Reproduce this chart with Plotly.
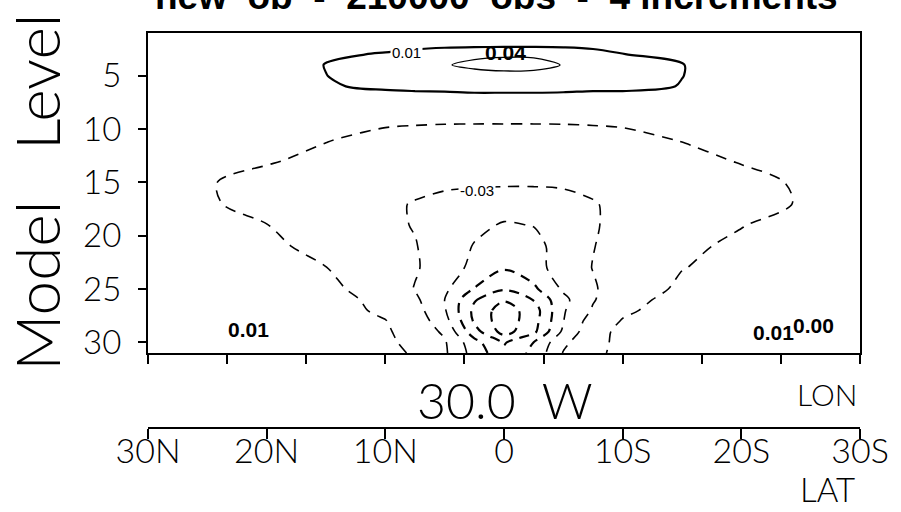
import numpy as np
import plotly.graph_objects as go

# Latitude columns (degrees, north positive) and model levels of the cross-section grid
lat = [30, 25, 20, 15, 10, 7.5, 5, 2.5, 0, -2.5, -5, -7.5, -10, -15, -20, -25, -30]
level = [1, 2, 3, 4, 5, 6, 7, 8, 9.5, 11, 13, 15, 17, 19, 21, 23, 25, 26, 27, 28, 29, 30, 31]

# Increment field, one row per model level (columns follow `lat`)
increment = [
    [0, 0, 0, 0, 0, 0.001, 0.001, 0.001, 0.001, 0.001, 0.001, 0.001, 0, 0, 0, 0, 0],
    [0, 0, 0, 0, 0.001, 0.001, 0.002, 0.002, 0.002, 0.002, 0.002, 0.002, 0.001, 0.001, 0, 0, 0],
    [0, 0, 0.002, 0.006, 0.012, 0.018, 0.023, 0.027, 0.028, 0.028, 0.025, 0.018, 0.0105, 0.005, 0.002, 0, 0],
    [0, 0.001, 0.004, 0.0105, 0.02, 0.025, 0.029, 0.033, 0.035, 0.034, 0.0295, 0.025, 0.02, 0.0105, 0.004, 0.001, 0],
    [0, 0.001, 0.004, 0.0098, 0.017, 0.02, 0.022, 0.025, 0.026, 0.026, 0.024, 0.021, 0.018, 0.0102, 0.004, 0.001, 0],
    [0, 0, 0.002, 0.0085, 0.013, 0.014, 0.015, 0.016, 0.016, 0.016, 0.015, 0.014, 0.014, 0.0095, 0.002, 0, 0],
    [0, 0, 0, 0.002, 0.004, 0.005, 0.005, 0.006, 0.006, 0.006, 0.006, 0.005, 0.005, 0.003, 0, 0, 0],
    [0, 0, -0.001, -0.002, -0.003, -0.0035, -0.004, -0.004, -0.004, -0.004, -0.004, -0.0035, -0.003, -0.003, -0.002, -0.001, 0],
    [0, -0.001, -0.003, -0.006, -0.009, -0.0095, -0.0098, -0.0099, -0.0099, -0.0099, -0.0098, -0.0095, -0.009, -0.0065, -0.004, -0.002, 0],
    [-0.001, -0.003, -0.006, -0.0095, -0.013, -0.014, -0.015, -0.016, -0.016, -0.016, -0.015, -0.014, -0.013, -0.0095, -0.006, -0.003, -0.001],
    [-0.002, -0.006, -0.009, -0.013, -0.017, -0.019, -0.021, -0.022, -0.023, -0.023, -0.022, -0.021, -0.018, -0.014, -0.0092, -0.006, -0.002],
    [-0.004, -0.0092, -0.014, -0.019, -0.023, -0.025, -0.026, -0.0265, -0.027, -0.027, -0.0265, -0.026, -0.023, -0.019, -0.014, -0.0085, -0.005],
    [-0.003, -0.009, -0.013, -0.02, -0.027, -0.031, -0.036, -0.04, -0.042, -0.042, -0.038, -0.031, -0.026, -0.02, -0.013, -0.0095, -0.003],
    [-0.001, -0.005, -0.0098, -0.017, -0.026, -0.031, -0.038, -0.046, -0.0515, -0.0495, -0.042, -0.0315, -0.025, -0.017, -0.0105, -0.005, -0.001],
    [0, -0.003, -0.0075, -0.0135, -0.024, -0.029, -0.04, -0.051, -0.06, -0.055, -0.043, -0.0305, -0.024, -0.0125, -0.0075, -0.003, 0],
    [0.001, -0.002, -0.005, -0.0098, -0.02, -0.028, -0.04, -0.055, -0.068, -0.058, -0.04, -0.0295, -0.022, -0.0105, -0.005, -0.002, 0.001],
    [0.002, -0.001, -0.004, -0.008, -0.014, -0.031, -0.046, -0.071, -0.088, -0.074, -0.047, -0.032, -0.02, -0.007, -0.003, 0, 0.001],
    [0.002, 0, -0.003, -0.006, -0.013, -0.026, -0.05, -0.088, -0.108, -0.089, -0.055, -0.0315, -0.016, -0.004, -0.002, 0.001, 0.002],
    [0.003, 0.002, 0, -0.003, -0.013, -0.022, -0.048, -0.095, -0.12, -0.10, -0.052, -0.028, -0.013, -0.002, 0.001, 0.002, 0.002],
    [0.004, 0.003, 0.001, -0.002, -0.0095, -0.018, -0.042, -0.0926, -0.122, -0.098, -0.0505, -0.02, -0.009, -0.002, 0.001, 0.002, 0.003],
    [0.004, 0.004, 0.002, -0.001, -0.0075, -0.0184, -0.033, -0.082, -0.118, -0.0945, -0.046, -0.016, -0.006, -0.001, 0.001, 0.003, 0.003],
    [0.005, 0.005, 0.003, 0, -0.006, -0.0156, -0.028, -0.063, -0.092, -0.07, -0.034, -0.016, -0.005, 0, 0.002, 0.004, 0.004],
    [0.006, 0.006, 0.004, 0.001, -0.005, -0.012, -0.027, -0.058, -0.085, -0.065, -0.029, -0.015, -0.004, 0.001, 0.003, 0.005, 0.005],
]

# Axis ticks
level_ticks = [5, 10, 15, 20, 25, 30]
lat_ticks = [30, 20, 10, 0, -10, -20, -30]
lat_tick_text = ["30N", "20N", "10N", "0", "10S", "20S", "30S"]
lon_axis_ticks = list(np.linspace(30, -30, 10))

# Printed values: (lat, level, text)
contour_labels = [(8.2, 2.85, "0.01"), (2.3, 15.75, "-0.03")]
value_labels = [(-0.1, 2.85, "0.04"), (21.5, 28.8, "0.01"), (-22.7, 29.1, "0.01"), (-26.1, 28.4, "0.00")]

title_text = "new  ob  -  210000  obs  -  4 increments"

THIN = dict(family="Lato, Roboto, Liberation Sans, sans-serif", weight=300, color="black")

fig = go.Figure()


def contour_trace(start, end, width, dash):
    return go.Contour(
        x=lat, y=level, z=increment,
        contours=dict(coloring="none", start=start, end=end, size=0.02, showlabels=False),
        line=dict(color="black", width=width, dash=dash, smoothing=0.9),
        showscale=False, hoverinfo="skip",
    )


# Positive increments: solid
fig.add_trace(contour_trace(0.01, 0.01, 2.2, "solid"))
fig.add_trace(contour_trace(0.03, 0.03, 1.3, "solid"))
# Negative increments: dashed
fig.add_trace(contour_trace(-0.05, -0.01, 1.6, "11px,8px"))
fig.add_trace(contour_trace(-0.11, -0.07, 2.2, "10px,7px"))

# Carrier for the latitude axis drawn below the plot
fig.add_trace(go.Scatter(x=[30, -30], y=[1, 1], xaxis="x2", mode="lines",
                         line=dict(width=0), opacity=0, hoverinfo="skip", showlegend=False))

annotations = []
for la, lv, t in contour_labels:
    annotations.append(dict(x=la, y=lv, xref="x", yref="y", text=t, showarrow=False,
                            font=dict(family="Liberation Sans, Arial, sans-serif", size=15, color="black"),
                            bgcolor="white", borderpad=1))
for la, lv, t in value_labels:
    annotations.append(dict(x=la, y=lv, xref="x", yref="y", text=t, showarrow=False,
                            font=dict(family="Liberation Sans, Arial, sans-serif", size=21,
                                      color="black", weight="bold")))

annotations += [
    dict(x=-0.157, y=0.6367, xref="paper", yref="paper", text="Model\u00a0\u00a0\u00a0Level",
         textangle=-90, showarrow=False, xanchor="center", yanchor="middle",
         font=dict(THIN, size=62)),
    dict(x=0.5014, y=0.1629, xref="paper", yref="paper", text="30.0\u00a0\u00a0W",
         showarrow=False, xanchor="center", yanchor="middle", font=dict(THIN, size=50)),
    dict(x=0.9541, y=0.1788, xref="paper", yref="paper", text="LON",
         showarrow=False, xanchor="center", yanchor="middle", font=dict(THIN, size=30)),
    dict(x=0.9541, y=-0.0376, xref="paper", yref="paper", text="LAT",
         showarrow=False, xanchor="center", yanchor="middle", font=dict(THIN, size=33)),
    dict(x=0.4896, y=1.084, xref="paper", yref="paper", text=title_text,
         showarrow=False, xanchor="center", yanchor="middle",
         font=dict(family="Liberation Sans, Arial, sans-serif", size=37, color="black", weight="bold")),
]

fig.update_layout(
    width=901, height=512,
    margin=dict(l=148, r=34, t=33, b=40, pad=0),
    paper_bgcolor="white", plot_bgcolor="white",
    showlegend=False,
    annotations=annotations,
    xaxis=dict(
        range=[30, -30], showgrid=False, zeroline=False,
        showline=True, linecolor="black", linewidth=2, mirror=True,
        tickmode="array", tickvals=lon_axis_ticks, ticks="outside", ticklen=9,
        tickwidth=1.5, tickcolor="black", showticklabels=False,
    ),
    xaxis2=dict(
        range=[30, -30], overlaying="x", anchor="free", position=0.1002, side="bottom",
        showgrid=False, zeroline=False, showline=True, linecolor="black", linewidth=2,
        tickmode="array", tickvals=lat_ticks, ticktext=lat_tick_text,
        ticks="outside", ticklen=10, tickwidth=1.5, tickcolor="black",
        ticklabelstandoff=-17,
        tickfont=dict(THIN, size=34),
    ),
    yaxis=dict(
        domain=[0.2711, 1], range=[31, 1], showgrid=False, zeroline=False,
        showline=True, linecolor="black", linewidth=2, mirror=True,
        tickmode="array", tickvals=level_ticks, ticks="outside", ticklen=8,
        tickwidth=1.5, tickcolor="black", ticklabelstandoff=10,
        tickfont=dict(THIN, size=33),
    ),
)

fig.write_html("out.html")
